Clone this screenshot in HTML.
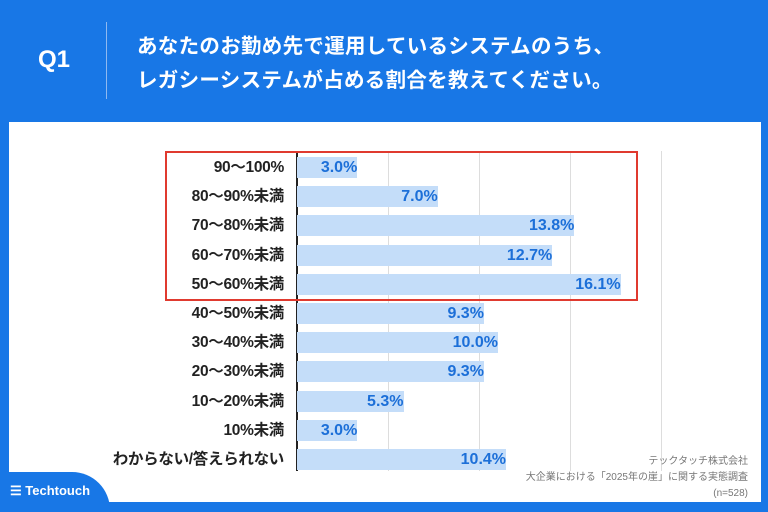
<!DOCTYPE html>
<html><head><meta charset="utf-8"><style>
body{margin:0;width:768px;height:512px;background:#1877e6;position:relative;overflow:hidden;font-family:"Liberation Sans","Noto Sans CJK JP",sans-serif}
.q{position:absolute;left:38px;top:46px;color:#fff;font-size:24px;font-weight:bold}
.div{position:absolute;left:106px;top:22px;width:1px;height:77px;background:#8fb9f0}
.t{position:absolute;left:137px;top:30px;color:#fff;font-size:20.5px;font-weight:bold;line-height:34px;letter-spacing:0.3px}
.panel{position:absolute;left:9px;top:122px;width:752px;height:380px;background:#fff}
.logo{position:absolute;left:0;top:472px;width:110px;height:40px;background:#1877e6;border-top-right-radius:38px}
.logo span{position:absolute;left:10px;top:11px;color:#fff;font-weight:bold;font-size:13px}
.lab{position:absolute;width:284px;left:0;text-align:right;font-size:15.5px;font-weight:bold;color:#222;line-height:20px;letter-spacing:-0.3px}
.bar{position:absolute;left:297px;height:21px;background:#c4ddf9;}
.val{position:absolute;right:0;top:0;font-size:16px;color:#1c6fd8;line-height:21px;font-weight:bold}
.g{position:absolute;top:151px;width:1px;height:320px;background:#ddd}
.src{position:absolute;right:20px;top:454px;text-align:right;font-size:10px;color:#777;line-height:16px}
</style></head><body>
<div class="q">Q1</div><div class="div"></div>
<div class="t">あなたのお勤め先で運用しているシステムのうち、<br>レガシーシステムが占める割合を教えてください。</div>
<div class="panel"></div>
<div class="g" style="left:388px"></div><div class="g" style="left:479px"></div><div class="g" style="left:570px"></div><div class="g" style="left:661px"></div>
<div style="position:absolute;left:296px;top:151px;width:1.5px;height:320px;background:#222"></div>
<div id="rows"></div>
<div style="position:absolute;left:165px;top:151px;width:469px;height:146px;border:2px solid #e03a2f"></div>
<div class="src">テックタッチ株式会社<br>大企業における「2025年の崖」に関する実態調査<br>(n=528)</div>
<div class="logo"><span>☰ Techtouch</span></div>
<script>
var d=[["90～100%",3.0],["80～90%未満",7.0],["70～80%未満",13.8],["60～70%未満",12.7],["50～60%未満",16.1],["40～50%未満",9.3],["30～40%未満",10.0],["20～30%未満",9.3],["10～20%未満",5.3],["10%未満",3.0],["わからない/答えられない",10.4]];
var h="";d.forEach(function(r,i){var y=158+i*29.2;
h+='<div class="lab" style="top:'+(y)+'px">'+r[0]+'</div><div class="bar" style="top:'+(y-1)+'px;width:'+(r[1]*20.1)+'px"><span class="val">'+r[1].toFixed(1)+'%</span></div>';});
document.getElementById("rows").innerHTML=h;
</script>
</body></html>
